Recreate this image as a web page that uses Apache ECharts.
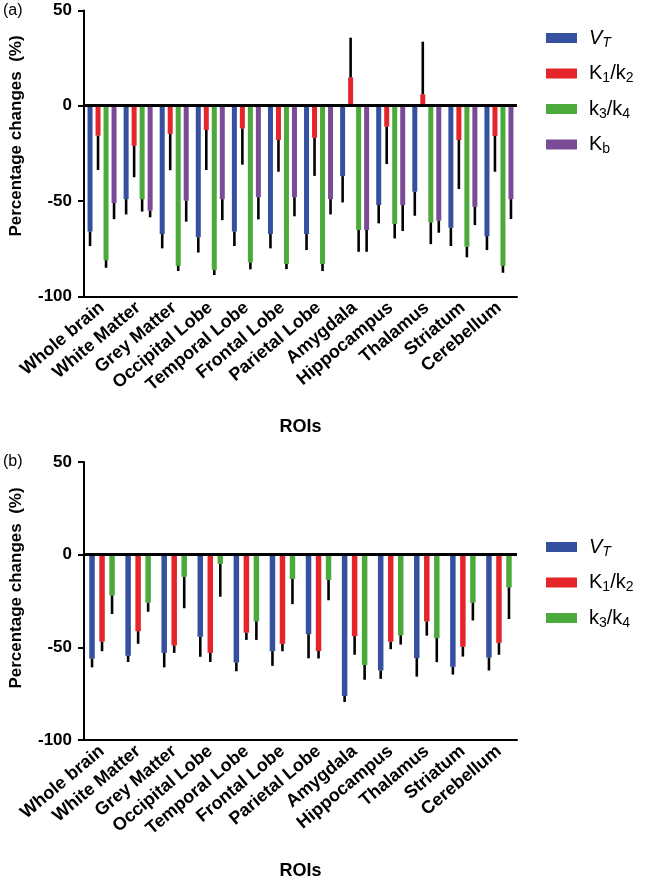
<!DOCTYPE html>
<html>
<head>
<meta charset="utf-8">
<script src="https://cdn.jsdelivr.net/npm/echarts@6/dist/echarts.min.js"></script>
<style>html,body{margin:0;padding:0;background:#fff;}#c{width:646px;height:881px;}</style>
</head>
<body>
<div id="c"></div>
<script>
// ---- data ----
const categories = ['Whole brain','White Matter','Grey Matter','Occipital Lobe','Temporal Lobe','Frontal Lobe','Parietal Lobe','Amygdala','Hippocampus','Thalamus','Striatum','Cerebellum'];
const yTicks = [-100, -50, 0, 50];

// Panel (a)
const VT_a      = [-66, -49, -67.3, -69, -66, -67.3, -67.3, -36.9, -52.1, -45.1, -64, -68.4];
const VT_a_err  = [7.6, 8, 7.5, 8, 7.6, 7.5, 8.4, 13.8, 9.6, 12.6, 9.6, 7.3];
const K1k2_a     = [-15.7, -21, -14.8, -12.7, -11.9, -18, -16.8, 14.9, -11, 6, -18, -15.9];
const K1k2_a_err = [18, 16.5, 19, 21, 19, 16.6, 20, 20.8, 19.6, 27.6, 25.7, 18.7];
const k3k4_a     = [-81, -49, -84, -86.2, -82.2, -83, -83, -65.2, -62, -61.2, -74, -84];
const k3k4_a_err = [4, 6.5, 2.7, 2.6, 3.6, 2.7, 3.7, 11.4, 7.6, 11.4, 5.5, 3.6];
const Kb_a      = [-51, -55, -49.8, -49, -48, -48, -49, -65.2, -52.1, -60.3, -53, -49];
const Kb_a_err  = [8.5, 3.5, 11, 11, 11.6, 10, 8, 11.4, 13.6, 6.3, 9.6, 10.4];

// Panel (b)
const VT_b      = [-56.1, -54.6, -53, -44.3, -58.2, -52.1, -42.9, -76.2, -62.5, -55.8, -60.5, -55.5];
const VT_b_err  = [4.7, 3.3, 7.8, 10.8, 4.7, 7.9, 13, 3.3, 4.5, 10, 4.2, 7];
const K1k2_b     = [-46.9, -41.3, -49, -53, -42.1, -48.1, -52, -44, -47, -36, -49.7, -47.6];
const K1k2_b_err = [5.2, 6.8, 4, 4.9, 3.9, 4, 4, 10, 4, 7.7, 5.3, 6.4];
const k3k4_b     = [-22, -25.9, -11.9, -4.9, -36, -13.1, -13.6, -59.5, -43.5, -45, -25.9, -17.7];
const k3k4_b_err = [10, 4.9, 17, 17.8, 10, 13.6, 11, 8, 5, 13, 9.6, 17];

// ---- styles ----
const FONT = '"Liberation Sans", Arial, sans-serif';
const C_BLUE = '#34509f', C_RED = '#e5252a', C_GREEN = '#4caa3c', C_PURPLE = '#7c4b98';

const chart = echarts.init(document.getElementById('c'), null, {renderer: 'canvas'});

function xAxisDef(gi) {
  return {
    type: 'category', gridIndex: gi, data: categories,
    axisLine: {onZero: false, lineStyle: {color: '#000', width: 2}},
    axisTick: {alignWithLabel: true, length: 5, lineStyle: {color: '#000', width: 2}},
    axisLabel: {rotate: 40, interval: 0, margin: 9, color: '#000', fontFamily: FONT, fontWeight: 'bold', fontSize: 18},
    name: 'ROIs', nameLocation: 'middle', nameGap: 122,
    nameTextStyle: {color: '#000', fontFamily: FONT, fontWeight: 'bold', fontSize: 18},
    splitLine: {show: false}
  };
}
function yAxisDef(gi) {
  return {
    type: 'value', gridIndex: gi, min: yTicks[0], max: yTicks[yTicks.length - 1], interval: 50,
    axisLine: {show: true, lineStyle: {color: '#000', width: 2}},
    axisTick: {show: true, length: 6, lineStyle: {color: '#000', width: 2}},
    axisLabel: {color: '#000', fontFamily: FONT, fontWeight: 'bold', fontSize: 17, margin: 12},
    splitLine: {show: false}
  };
}
function barSeries(name, vals, color, gi, bw, gap, withZero) {
  const s = {
    type: 'bar', name: name, xAxisIndex: gi, yAxisIndex: gi, data: vals,
    barWidth: bw, barGap: gap, itemStyle: {color: color}, silent: true, z: 2
  };
  if (withZero) {
    s.markLine = {
      silent: true, symbol: 'none', label: {show: false},
      lineStyle: {color: '#000', width: 3, type: 'solid'},
      data: [{yAxis: 0}], z: 5
    };
  }
  return s;
}
function errSeries(vals, errs, idx, n, step, gi) {
  return {
    type: 'custom', xAxisIndex: gi, yAxisIndex: gi, silent: true, z: 3,
    data: vals.map((v, i) => [i, v, errs[i]]),
    renderItem: function (params, api) {
      const c = api.value(0), v = api.value(1), e = api.value(2);
      const sgn = v >= 0 ? 1 : -1;
      const p0 = api.coord([c, v]);
      const p1 = api.coord([c, v + sgn * e]);
      const off = (idx - (n - 1) / 2) * step;
      return {type: 'line', shape: {x1: p0[0] + off, y1: p0[1], x2: p0[0] + off, y2: p1[1]},
              style: {stroke: '#000', lineWidth: 2.6}};
    }
  };
}

const legendNames = {
  'V_T (a)': '{vi|V}{vs|T}', 'K1/k2 (a)': '{n|K}{s|1}{n|/k}{s|2}', 'k3/k4 (a)': '{n|k}{s|3}{n|/k}{s|4}', 'Kb (a)': '{n|K}{s|b}',
  'V_T (b)': '{vi|V}{vs|T}', 'K1/k2 (b)': '{n|K}{s|1}{n|/k}{s|2}', 'k3/k4 (b)': '{n|k}{s|3}{n|/k}{s|4}'
};
const richStyle = {
  n:  {fontFamily: FONT, fontSize: 20, lineHeight: 24, color: '#000'},
  s:  {fontFamily: FONT, fontSize: 14, lineHeight: 14, color: '#000', verticalAlign: 'bottom'},
  vi: {fontFamily: FONT, fontSize: 20, lineHeight: 24, color: '#000', fontStyle: 'italic'},
  vs: {fontFamily: FONT, fontSize: 14, lineHeight: 14, color: '#000', fontStyle: 'italic', verticalAlign: 'bottom'}
};
function legendDef(top, names) {
  return {
    orient: 'vertical', left: 541, top: top, itemWidth: 31, itemHeight: 10, itemGap: 13.5,
    icon: 'rect', data: names, selectedMode: false,
    formatter: n => legendNames[n],
    textStyle: {rich: richStyle, padding: [0, 0, 0, 7]}
  };
}

const option = {
  animation: false,
  backgroundColor: '#fff',
  grid: [
    {left: 84, top: 10.4, width: 433, height: 286},
    {left: 84, top: 462, width: 433, height: 286}
  ],
  xAxis: [xAxisDef(0), xAxisDef(1)],
  yAxis: [yAxisDef(0), yAxisDef(1)],
  legend: [
    legendDef(23, ['V_T (a)', 'K1/k2 (a)', 'k3/k4 (a)', 'Kb (a)']),
    legendDef(532, ['V_T (b)', 'K1/k2 (b)', 'k3/k4 (b)'])
  ],
  graphic: [
    {type: 'text', left: 3, top: 3, style: {text: '(a)', font: '16px ' + FONT, fill: '#000'}},
    {type: 'text', left: 3, top: 454, style: {text: '(b)', font: '16px ' + FONT, fill: '#000'}},
    {type: 'text', x: 16, y: 136, rotation: Math.PI / 2,
     style: {text: 'Percentage changes  (%)', font: 'bold 17px ' + FONT, fill: '#000', align: 'center', verticalAlign: 'middle'}},
    {type: 'text', x: 16, y: 588, rotation: Math.PI / 2,
     style: {text: 'Percentage changes  (%)', font: 'bold 17px ' + FONT, fill: '#000', align: 'center', verticalAlign: 'middle'}}
  ],
  series: [
    barSeries('V_T (a)', VT_a, C_BLUE, 0, 5, '60%', true),
    barSeries('K1/k2 (a)', K1k2_a, C_RED, 0, 5, '60%'),
    barSeries('k3/k4 (a)', k3k4_a, C_GREEN, 0, 5, '60%'),
    barSeries('Kb (a)', Kb_a, C_PURPLE, 0, 5, '60%'),
    errSeries(VT_a, VT_a_err, 0, 4, 8, 0),
    errSeries(K1k2_a, K1k2_a_err, 1, 4, 8, 0),
    errSeries(k3k4_a, k3k4_a_err, 2, 4, 8, 0),
    errSeries(Kb_a, Kb_a_err, 3, 4, 8, 0),

    barSeries('V_T (b)', VT_b, C_BLUE, 1, 5.5, '82%', true),
    barSeries('K1/k2 (b)', K1k2_b, C_RED, 1, 5.5, '82%'),
    barSeries('k3/k4 (b)', k3k4_b, C_GREEN, 1, 5.5, '82%'),
    errSeries(VT_b, VT_b_err, 0, 3, 10, 1),
    errSeries(K1k2_b, K1k2_b_err, 1, 3, 10, 1),
    errSeries(k3k4_b, k3k4_b_err, 2, 3, 10, 1)
  ]
};
chart.setOption(option);
</script>
</body>
</html>
